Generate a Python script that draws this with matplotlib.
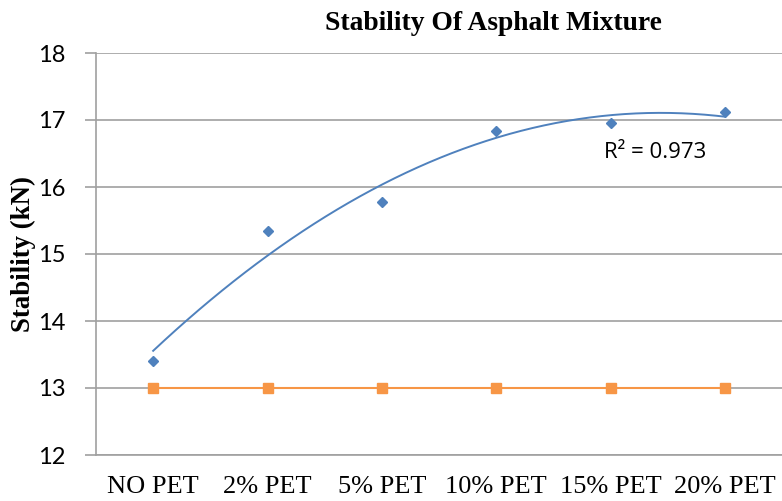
import numpy as np
import matplotlib
matplotlib.use("Agg")
import matplotlib.pyplot as plt

categories = ["NO PET", "2% PET", "5% PET", "10% PET", "15% PET", "20% PET"]
stability = [13.40, 15.35, 15.77, 16.83, 16.95, 17.12]
spec_min = [13, 13, 13, 13, 13, 13]

BLUE = "#4F81BD"
ORANGE = "#F79646"
GRID = "#A0A0A0"

fig = plt.figure(figsize=(7.82, 5.01), dpi=100)
ax = fig.add_axes([96 / 782, 46 / 501, 686 / 782, 402 / 501])

x = np.arange(len(categories))

# second-order polynomial trendline (as in the original spreadsheet)
coef = np.polyfit(x, stability, 2)
xs = np.linspace(x[0], x[-1], 200)
ax.plot(xs, np.polyval(coef, xs), color=BLUE, lw=1.4, zorder=3)

ax.plot(x, stability, linestyle="none", marker="D", ms=5, color=BLUE, zorder=4)
ax.plot(x, spec_min, color=ORANGE, lw=1.5, marker="s", ms=7, zorder=4)

ax.text(3.94, 16.52, "R² = 0.973", fontsize=16, family="Open Sans",
        ha="left", va="center")

ax.set_xlim(-0.5, len(categories) - 0.5)
ax.set_ylim(12, 18)
ax.set_yticks(range(12, 19))
ax.set_xticks(x)
ax.set_xticklabels(categories, family="Liberation Serif", fontsize=19)
ax.tick_params(axis="x", length=0, pad=15)
ax.tick_params(axis="y", length=8, width=1.2, color=GRID, pad=14, labelsize=17)
for lab in ax.get_yticklabels():
    lab.set_family("Lato")

ax.grid(axis="y", color=GRID, lw=1.2)
ax.set_axisbelow(True)
for side in ("top", "right"):
    ax.spines[side].set_visible(False)
for side in ("left", "bottom"):
    ax.spines[side].set_color(GRID)
    ax.spines[side].set_linewidth(1.2)

ax.set_ylabel("Stability (kN)", family="Liberation Serif", fontweight="bold",
              fontsize=19.4)
ax.yaxis.set_label_coords(-0.087, 0.5)

fig.text(493 / 782, 1 - 23 / 501, "Stability Of Asphalt Mixture",
         family="Liberation Serif", fontweight="bold", fontsize=19.8,
         ha="center", va="center")

fig.savefig("out.png", dpi=100)
